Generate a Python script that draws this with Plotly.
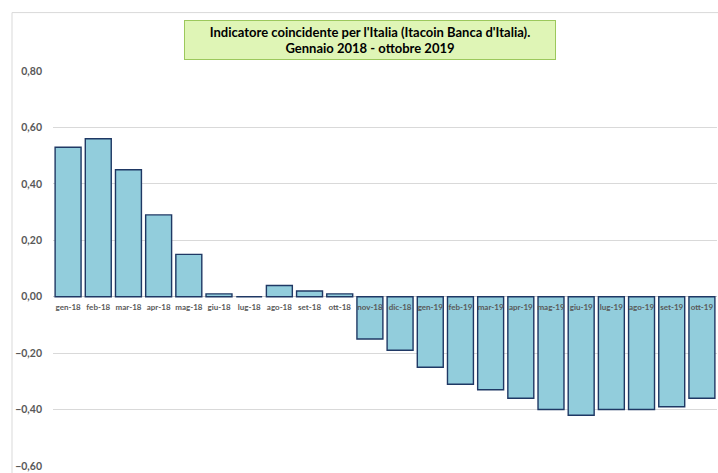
import plotly.graph_objects as go

months = ["gen-18", "feb-18", "mar-18", "apr-18", "mag-18", "giu-18", "lug-18", "ago-18",
          "set-18", "ott-18", "nov-18", "dic-18", "gen-19", "feb-19", "mar-19", "apr-19",
          "mag-19", "giu-19", "lug-19", "ago-19", "set-19", "ott-19"]
itacoin = [0.53, 0.56, 0.45, 0.29, 0.15, 0.01, 0.00, 0.04, 0.02, 0.01, -0.15, -0.19,
           -0.25, -0.31, -0.33, -0.36, -0.40, -0.42, -0.40, -0.40, -0.39, -0.36]
y_ticks = [-0.6, -0.4, -0.2, 0.0, 0.2, 0.4, 0.6, 0.8]
title_text = "Indicatore coincidente per l'Italia (Itacoin Banca d'Italia).<br>Gennaio 2018 - ottobre 2019"

W, H = 718, 473
ml, mr, mt, mb = 53, 1, 71, 3
pw, ph = W - ml - mr, H - mt - mb

def px_to_paper_x(px):
    return (px - ml) / pw

def px_to_paper_y(py):
    return (H - mb - py) / ph

fig = go.Figure()
fig.add_trace(go.Bar(
    x=months, y=itacoin,
    marker=dict(color="#92cddc", line=dict(color="#1f3864", width=1.4)),
))

ymin, ymax = -0.6, 0.8
fig.update_layout(
    width=W, height=H,
    margin=dict(l=ml, r=mr, t=mt, b=mb),
    plot_bgcolor="white", paper_bgcolor="white",
    separators=",.",
    showlegend=False,
    bargap=0.14,
    font=dict(family="Lato, Open Sans, sans-serif"),
    xaxis=dict(
        type="category",
        anchor="free",
        position=(0 - ymin) / (ymax - ymin),
        showline=False, showgrid=False, zeroline=False, ticks="",
        tickfont=dict(size=8, color="#595959", family="Lato, sans-serif", weight="bold"),
        ticklabelstandoff=4,
    ),
    yaxis=dict(
        range=[ymin, ymax],
        tickvals=y_ticks,
        tickformat=".2f",
        showgrid=True, gridcolor="#d9d9d9", gridwidth=1,
        zeroline=True, zerolinecolor="#c8c8c8", zerolinewidth=1,
        showline=False, ticks="",
        ticklabeloverflow="allow",
        tickfont=dict(size=10.5, color="#595959", family="Lato, sans-serif", weight="bold"),
        ticklabelstandoff=10,
    ),
    shapes=[
        dict(type="line", xref="paper", yref="paper",
             x0=px_to_paper_x(12), x1=px_to_paper_x(12),
             y0=px_to_paper_y(12), y1=px_to_paper_y(480),
             line=dict(color="#d9d9d9", width=1)),
        dict(type="line", xref="paper", yref="paper",
             x0=px_to_paper_x(12), x1=px_to_paper_x(720),
             y0=px_to_paper_y(12), y1=px_to_paper_y(12),
             line=dict(color="#d9d9d9", width=1)),
    ],
    annotations=[
        dict(text="<b>" + title_text + "</b>",
             xref="paper", yref="paper",
             x=px_to_paper_x(370), y=px_to_paper_y(39.5),
             xanchor="center", yanchor="middle",
             showarrow=False, align="center",
             font=dict(size=13, color="black", family="Lato, sans-serif"),
             bgcolor="#dff5b6", bordercolor="#9cc85c", borderwidth=1,
             width=368, height=36, borderpad=1),
    ],
)

fig.write_html(
    "out.html",
    config={"displayModeBar": False},
    post_script="document.body.style.margin='0';document.body.style.overflow='hidden';",
)
